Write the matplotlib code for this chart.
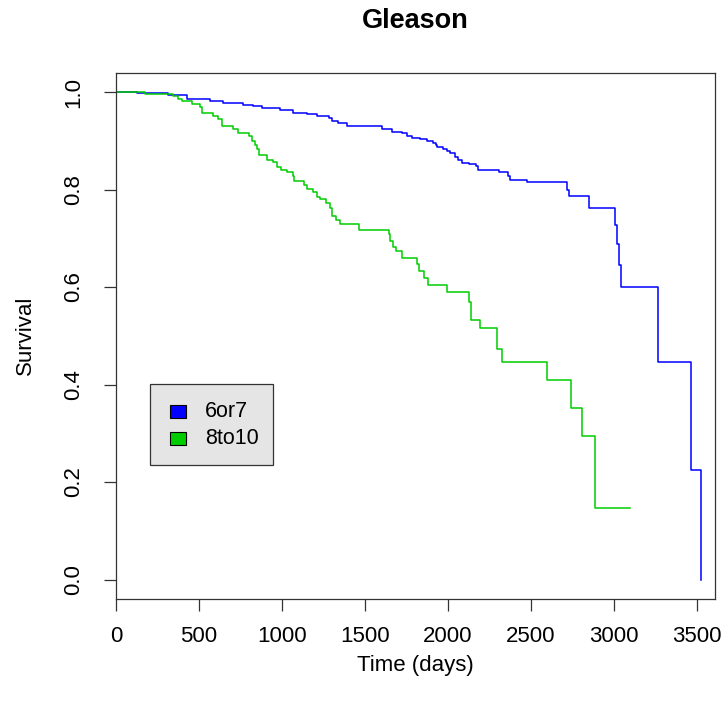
import matplotlib
matplotlib.use("Agg")
import matplotlib.pyplot as plt
from matplotlib.patches import Rectangle

plt.rcParams['font.family'] = ['Liberation Sans', 'DejaVu Sans']

# Kaplan-Meier step data (time in days, survival after step)
t_6or7 = [0, 125, 313, 427, 566, 645, 766, 826, 877, 988, 1066, 1149, 1210, 1285, 1300,
          1337, 1391, 1602, 1663, 1723, 1753, 1783, 1831, 1872, 1911, 1928, 1935, 1968,
          1992, 2012, 2042, 2062, 2088, 2127, 2169, 2179, 2307, 2363, 2373, 2474, 2718,
          2729, 2848, 3006, 3020, 3030, 3046, 3265, 3465, 3528]
s_6or7 = [1.0, 0.997, 0.993, 0.985, 0.981, 0.978, 0.974, 0.971, 0.968, 0.964, 0.957, 0.954,
          0.951, 0.946, 0.941, 0.936, 0.930, 0.924, 0.918, 0.916, 0.910, 0.906, 0.903, 0.899,
          0.895, 0.891, 0.887, 0.883, 0.878, 0.875, 0.867, 0.861, 0.854, 0.852, 0.848, 0.841,
          0.835, 0.828, 0.820, 0.815, 0.800, 0.786, 0.763, 0.728, 0.688, 0.645, 0.601, 0.447,
          0.224, 0.0]

t_8to10 = [0, 175, 345, 376, 396, 456, 506, 516, 582, 616, 636, 703, 737, 803, 817, 837,
           847, 863, 908, 948, 968, 992, 1028, 1064, 1072, 1133, 1149, 1185, 1210, 1228,
           1267, 1289, 1302, 1325, 1349, 1462, 1646, 1654, 1670, 1690, 1721, 1815, 1825,
           1857, 1881, 1992, 2128, 2142, 2194, 2297, 2329, 2600, 2745, 2811, 2888, 3100]
s_8to10 = [1.0, 0.996, 0.991, 0.986, 0.981, 0.975, 0.970, 0.957, 0.951, 0.944, 0.930, 0.924,
           0.916, 0.910, 0.900, 0.891, 0.883, 0.871, 0.861, 0.856, 0.847, 0.841, 0.835, 0.828,
           0.818, 0.810, 0.801, 0.794, 0.785, 0.780, 0.772, 0.763, 0.746, 0.737, 0.729, 0.717,
           0.708, 0.695, 0.683, 0.674, 0.659, 0.647, 0.633, 0.619, 0.604, 0.590, 0.569, 0.532,
           0.515, 0.472, 0.446, 0.409, 0.351, 0.294, 0.147, 0.147]

groups = ['6or7', '8to10']
colors = ['#0000FF', '#00CD00']
x_ticks = [0, 500, 1000, 1500, 2000, 2500, 3000, 3500]
y_ticks = [0.0, 0.2, 0.4, 0.6, 0.8, 1.0]

W, H = 726, 715
fig = plt.figure(figsize=(W / 100, H / 100), dpi=100)
ax = fig.add_axes([116 / W, 1 - 599 / H, (715 - 116) / W, (599 - 72.5) / H])

ax.step(t_6or7, s_6or7, where='post', color=colors[0], lw=1.1)
ax.step(t_8to10, s_8to10, where='post', color=colors[1], lw=1.1)

ax.set_xlim(0, 3610)
ax.set_ylim(-0.04, 1.04)
ax.set_xticks(x_ticks)
ax.set_xticklabels([str(v) for v in x_ticks])
ax.set_yticks(y_ticks)
ax.set_yticklabels([f"{v:.1f}" for v in y_ticks], rotation=90, va='center')
ax.tick_params(axis='both', length=8.6, width=0.9, labelsize=16, color='#333333')
ax.tick_params(axis='x', pad=11)
ax.tick_params(axis='y', pad=14)
for sp in ax.spines.values():
    sp.set_color('#333333')
    sp.set_linewidth(0.9)

fig.text(415.5 / W, 1 - 21 / H, 'Gleason', ha='center', va='center', fontsize=19.5,
         fontweight='bold')
fig.text(415.5 / W, 1 - 665 / H, 'Time (days)', ha='center', va='center', fontsize=16)
fig.text(25 / W, 1 - 335.5 / H, 'Survival', ha='center', va='center', fontsize=16,
         rotation=90)


# Legend drawn in pixel coordinates (figure fraction)
def px(x, y):
    return (x / W, 1 - y / H)


box_l, box_t, box_r, box_b = 149.5, 384, 273, 465
fig.add_artist(Rectangle(px(box_l, box_b), (box_r - box_l) / W, (box_b - box_t) / H,
                         transform=fig.transFigure, facecolor='#E5E5E5',
                         edgecolor='#333333', linewidth=0.9))
row_y = [411.5, 438.5]
for g, c, yc in zip(groups, colors, row_y):
    fig.add_artist(Rectangle(px(169.5, yc + 6.5), 16.5 / W, 13 / H,
                             transform=fig.transFigure, facecolor=c,
                             edgecolor='black', linewidth=0.8))
    fig.text(205 / W, 1 - yc / H, g, ha='left', va='center', fontsize=15.5)

fig.savefig('out.png', dpi=100)
